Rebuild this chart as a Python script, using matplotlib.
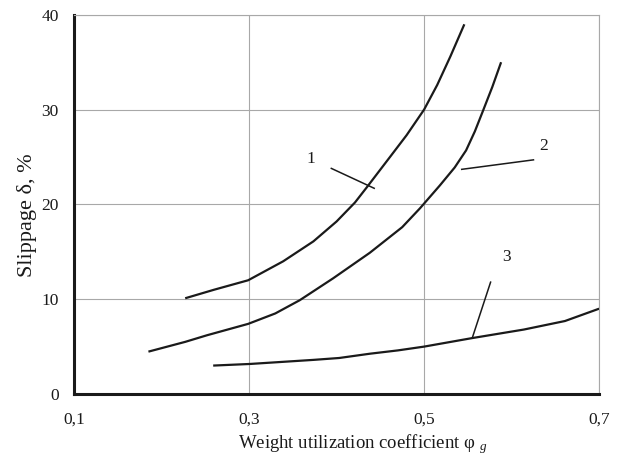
import matplotlib
matplotlib.use("Agg")
import matplotlib.pyplot as plt

plt.rcParams["font.family"] = ["Liberation Serif", "DejaVu Serif"]
plt.rcParams["mathtext.fontset"] = "custom"
plt.rcParams["mathtext.it"] = "Liberation Serif:italic"
plt.rcParams["mathtext.rm"] = "Liberation Serif"

# Slippage curves vs. weight utilization coefficient
phi_1 = [0.227, 0.26, 0.299, 0.339, 0.3735, 0.40, 0.421, 0.4345, 0.461, 0.48,
         0.50, 0.515, 0.53, 0.546]
slip_1 = [10.1, 11.0, 12.0, 14.0, 16.1, 18.2, 20.2, 21.8, 25.0, 27.3,
          30.0, 32.6, 35.6, 39.0]

phi_2 = [0.185, 0.227, 0.252, 0.299, 0.330, 0.358, 0.396, 0.438, 0.475, 0.4954,
         0.518, 0.535, 0.548, 0.558, 0.567, 0.578, 0.588]
slip_2 = [4.47, 5.5, 6.2, 7.4, 8.5, 9.9, 12.2, 14.9, 17.6, 19.6,
          22.0, 23.9, 25.7, 27.7, 29.8, 32.4, 35.0]

phi_3 = [0.259, 0.301, 0.3735, 0.403, 0.438, 0.47, 0.50, 0.555, 0.614, 0.661, 0.70]
slip_3 = [3.0, 3.17, 3.6, 3.8, 4.25, 4.6, 5.0, 5.9, 6.8, 7.7, 9.0]

curve_labels = ["1", "2", "3"]
label_pos = [(0.371, 24.75), (0.637, 26.2), (0.594, 14.5)]
leader_lines = [((0.394, 23.8), (0.443, 21.7)),
                ((0.625, 24.7), (0.543, 23.7)),
                ((0.576, 11.8), (0.555, 5.9))]

x_ticks = [0.1, 0.3, 0.5, 0.7]
x_tick_labels = ["0,1", "0,3", "0,5", "0,7"]
y_ticks = [0, 10, 20, 30, 40]

fig = plt.figure(figsize=(6.17, 4.63), dpi=100)
ax = fig.add_axes([0.12, 0.149, 0.851, 0.819])

for xs, ys in [(phi_1, slip_1), (phi_2, slip_2), (phi_3, slip_3)]:
    ax.plot(xs, ys, color="#1a1a1a", lw=1.6, solid_capstyle="butt",
            solid_joinstyle="round", zorder=3)

for lab, (lx, ly), ((x0, y0), (x1, y1)) in zip(curve_labels, label_pos, leader_lines):
    ax.plot([x0, x1], [y0, y1], color="#1a1a1a", lw=1.1, zorder=3)
    ax.text(lx, ly, lab, fontsize=12.5, ha="center", va="center", color="#1a1a1a")

ax.set_xlim(0.1, 0.7)
ax.set_ylim(0, 40)
ax.set_xticks(x_ticks)
ax.set_xticklabels(x_tick_labels)
ax.set_yticks(y_ticks)
ax.tick_params(length=0, labelsize=12.5, colors="#1a1a1a")
ax.tick_params(axis="x", pad=13)
ax.tick_params(axis="y", pad=11)
ax.grid(True, color="#a8a8a8", lw=0.8)
ax.set_axisbelow(True)

for side in ["top", "right"]:
    ax.spines[side].set_color("#a8a8a8")
    ax.spines[side].set_linewidth(0.8)
for side in ["left", "bottom"]:
    ax.spines[side].set_color("#1a1a1a")
    ax.spines[side].set_linewidth(2.2)

ax.set_xlabel("Weight utilization coefficient φ $_{g}$", fontsize=13.5, color="#1a1a1a")
ax.xaxis.label.set_verticalalignment("center")
ax.xaxis.set_label_coords(0.549, -0.132)

ax.set_ylabel("Slippage δ, %", fontsize=16, color="#1a1a1a")
ax.yaxis.label.set_verticalalignment("center")
ax.yaxis.set_label_coords(-0.090, 0.472)

fig.savefig("out.png", dpi=100, facecolor="white")
